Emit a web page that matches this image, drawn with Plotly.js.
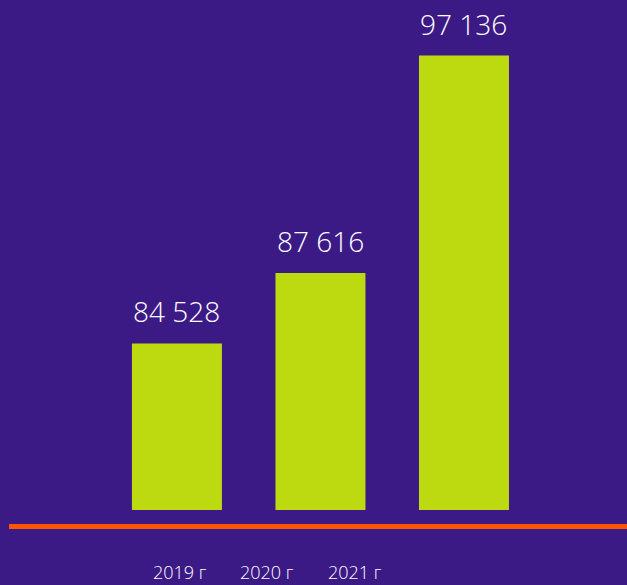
<!DOCTYPE html>
<html>
<head>
<meta charset="utf-8">
<script src="https://cdn.plot.ly/plotly-3.0.1.min.js"></script>
<style>html,body{margin:0;padding:0;background:#3c1a86;}</style>
</head>
<body>
<div id="chart" style="width:627px;height:585px;"></div>
<script>
const categories = ["2019", "2020", "2021"];
const values = [84528, 87616, 97136];
const yearLabels = ["2019 г", "2020 г", "2021 г"];

const fmt = v => String(v).replace(/\B(?=(\d{3})+(?!\d))/g, " ");

const BG = "#3c1a86";
const BAR = "#bcda0f";
const LINE = "#ff5500";
const FONT = "Open Sans, Liberation Sans, sans-serif";

const yearX = [0.287, 0.426, 0.566];

const annotations = [];
categories.forEach((c, i) => {
  annotations.push({
    x: i, y: values[i], xref: "x", yref: "y",
    text: fmt(values[i]), showarrow: false,
    xanchor: "center", yanchor: "bottom", yshift: 11,
    font: {family: FONT, size: 28, color: "#ffffff", weight: 300}
  });
});
yearLabels.forEach((t, i) => {
  annotations.push({
    x: yearX[i], y: -0.096, xref: "paper", yref: "paper",
    text: t, showarrow: false, xanchor: "center", yanchor: "top",
    borderpad: 0,
    font: {family: FONT, size: 18, color: "#ffffff", weight: 300}
  });
});

Plotly.newPlot("chart", [{
  type: "bar",
  x: categories,
  y: values,
  marker: {color: BAR},
  width: 0.627,
  hoverinfo: "none"
}], {
  width: 627, height: 585,
  margin: {l: 0, r: 0, t: 0, b: 75},
  paper_bgcolor: BG, plot_bgcolor: BG,
  showlegend: false,
  xaxis: {type: "category", range: [-1.233, 3.136], visible: false, fixedrange: true},
  yaxis: {range: [77236, 99569], visible: false, fixedrange: true},
  shapes: [{
    type: "line", xref: "paper", yref: "paper",
    x0: 0.0144, x1: 1, y0: -0.0324, y1: -0.0324,
    line: {color: LINE, width: 5}
  }],
  annotations: annotations
}, {displayModeBar: false, staticPlot: true});
</script>
</body>
</html>
